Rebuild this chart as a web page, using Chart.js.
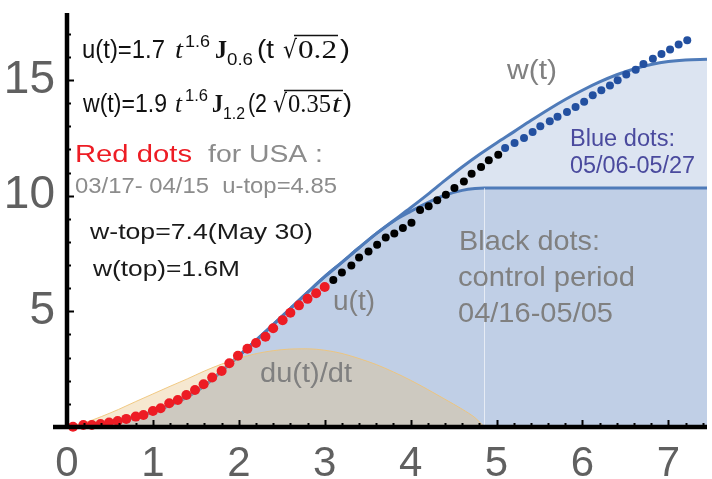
<!DOCTYPE html>
<html lang="en">
<head>
<meta charset="UTF-8">
<title>u(t) and w(t), USA</title>
<style>
    body { margin: 0; padding: 0; background: #fff; }
    #chart { display: block; }
</style>
<script src="https://cdn.jsdelivr.net/npm/chart.js"></script>
</head>
<body>
<canvas id="chart" width="712" height="479"></canvas>
<script>
// tick labels
const xTickLabels = [0, 1, 2, 3, 4, 5, 6, 7];
const yTickLabels = [5, 10, 15];

// u(t): fitted curve, plateau after the top
const uX = [0, 0.2, 0.4, 0.6, 0.8, 1.0, 1.2, 1.4, 1.6, 1.8, 2.0, 2.2, 2.4, 2.6, 2.8, 3.0, 3.2, 3.4, 3.6, 3.8, 4.0, 4.2, 4.4, 4.6, 4.75, 4.86, 7.45];
const uY = [0, 0.04, 0.12, 0.25, 0.43, 0.66, 0.95, 1.3, 1.78, 2.42, 3.08, 3.75, 4.43, 5.12, 5.82, 6.5, 7.12, 7.75, 8.36, 8.9, 9.32, 9.7, 10.02, 10.23, 10.31, 10.33, 10.33];

// w(t)
const wX = [0, 0.2, 0.4, 0.6, 0.8, 1.0, 1.2, 1.4, 1.6, 1.8, 2.0, 2.2, 2.4, 2.6, 2.8, 3.0, 3.2, 3.4, 3.6, 3.8, 4.0, 4.2, 4.4, 4.6, 4.8, 5.0, 5.2, 5.4, 5.6, 5.8, 6.0, 6.2, 6.4, 6.6, 6.8, 7.0, 7.2, 7.45];
const wY = [0, 0.04, 0.12, 0.25, 0.43, 0.66, 0.95, 1.3, 1.78, 2.42, 3.08, 3.75, 4.43, 5.12, 5.82, 6.5, 7.12, 7.75, 8.36, 8.92, 9.48, 10.06, 10.66, 11.24, 11.78, 12.28, 12.76, 13.25, 13.72, 14.16, 14.56, 14.92, 15.23, 15.48, 15.67, 15.8, 15.87, 15.9];

// du(t)/dt
const dX = [0, 0.2, 0.4, 0.6, 0.8, 1.0, 1.2, 1.4, 1.6, 1.8, 2.0, 2.2, 2.4, 2.6, 2.8, 3.0, 3.2, 3.4, 3.6, 3.8, 4.0, 4.2, 4.4, 4.6, 4.75, 4.86];
const dY = [0, 0.18, 0.45, 0.76, 1.1, 1.43, 1.76, 2.08, 2.42, 2.72, 2.97, 3.17, 3.3, 3.37, 3.38, 3.32, 3.18, 2.96, 2.7, 2.38, 2.02, 1.62, 1.2, 0.77, 0.4, 0];

// faint edge where u(t) reaches its top
const edgeX = [4.86, 4.86];
const edgeY = [0, 10.33];

// red dots 03/17-04/15
const redX = [0.07, 0.19, 0.29, 0.39, 0.49, 0.59, 0.69, 0.8, 0.89, 1.0, 1.09, 1.19, 1.29, 1.39, 1.49, 1.59, 1.69, 1.8, 1.89, 1.99, 2.1, 2.2, 2.31, 2.4, 2.51, 2.6, 2.7, 2.8, 2.9, 3.0];
const redY = [0.01, 0.09, 0.09, 0.13, 0.19, 0.26, 0.35, 0.45, 0.52, 0.69, 0.81, 1.03, 1.17, 1.38, 1.6, 1.85, 2.14, 2.42, 2.76, 3.08, 3.38, 3.63, 3.9, 4.27, 4.62, 4.94, 5.26, 5.54, 5.78, 6.05];

// black dots 04/16-05/05
const blackX = [3.1, 3.2, 3.31, 3.4, 3.51, 3.61, 3.71, 3.81, 3.91, 4.01, 4.11, 4.21, 4.31, 4.41, 4.51, 4.62, 4.71, 4.82, 4.91, 5.02];
const blackY = [6.36, 6.68, 6.98, 7.33, 7.59, 7.88, 8.19, 8.37, 8.6, 8.83, 9.38, 9.54, 9.8, 10.04, 10.33, 10.62, 10.95, 11.24, 11.53, 11.77];

// blue dots 05/06-05/27
const blueX = [5.1, 5.21, 5.32, 5.42, 5.51, 5.62, 5.71, 5.82, 5.92, 6.02, 6.12, 6.22, 6.32, 6.41, 6.51, 6.62, 6.71, 6.82, 6.92, 7.02, 7.12, 7.22];
const blueY = [12.06, 12.28, 12.5, 12.76, 13.0, 13.22, 13.41, 13.62, 13.84, 14.06, 14.34, 14.56, 14.76, 14.99, 15.24, 15.45, 15.7, 15.92, 16.13, 16.32, 16.54, 16.72];

const sans = '"Liberation Sans", Arial, sans-serif';
const serif = '"Liberation Serif", "Times New Roman", serif';
const lineBlue = '#4f7bb9';
const areaBlue = 'rgba(79, 119, 183, 0.2)';

function pts(xs, ys) {
    return xs.map((x, i) => ({ x: x, y: ys[i] }));
}

// draw text squeezed/stretched between x0 and x1
function fitText(ctx, text, x0, x1, base, font, color) {
    ctx.save();
    ctx.font = font;
    const w = ctx.measureText(text).width;
    ctx.translate(x0, base);
    ctx.scale((x1 - x0) / w, 1);
    ctx.fillStyle = color;
    ctx.textBaseline = 'alphabetic';
    ctx.textAlign = 'left';
    ctx.fillText(text, 0, 0);
    ctx.restore();
}

const decor = {
    id: 'decor',
    afterDatasetsDraw(chart) {
        const ctx = chart.ctx;
        const xs = chart.scales.x, ys = chart.scales.y;
        const x0 = xs.getPixelForValue(0), y0 = ys.getPixelForValue(0);

        // tick marks, pointing inwards
        ctx.save();
        ctx.strokeStyle = '#000';
        ctx.lineWidth = 2;
        for (let i = 1; i <= 37; i++) {
            const px = Math.round(xs.getPixelForValue(i / 5)) + 0.5;
            const len = i % 5 === 0 ? 7 : 4;
            ctx.beginPath();
            ctx.moveTo(px, y0);
            ctx.lineTo(px, y0 - len);
            ctx.stroke();
        }
        for (let j = 1; j <= 17; j++) {
            const py = Math.round(ys.getPixelForValue(j)) + 0.5;
            const len = j % 5 === 0 ? 7 : 4;
            ctx.beginPath();
            ctx.moveTo(x0, py);
            ctx.lineTo(x0 + len, py);
            ctx.stroke();
        }
        // axes
        ctx.lineWidth = 4.5;
        ctx.beginPath();
        ctx.moveTo(53, y0);
        ctx.lineTo(chart.chartArea.right, y0);
        ctx.moveTo(x0, y0 + 2);
        ctx.lineTo(x0, chart.chartArea.top);
        ctx.stroke();
        ctx.restore();

        // formulas
        const f25 = '25px ' + sans;
        const c = '#111';
        fitText(ctx, 'u(t)=1.7', 82, 165, 58, f25, c);
        fitText(ctx, 't', 175, 183, 58, 'italic 25px ' + serif, c);
        fitText(ctx, '1.6', 185, 210, 47, '16px ' + sans, c);
        fitText(ctx, 'J', 215, 227, 58, 'bold 25px ' + serif, c);
        fitText(ctx, '0.6', 227, 253, 65, '16px ' + sans, c);
        fitText(ctx, '(t', 257, 274, 58, f25, c);
        fitText(ctx, '\u221A', 283, 297, 58, '25px "DejaVu Sans"', c);
        fitText(ctx, '0.2', 298, 337, 58, '25px ' + serif, c);
        fitText(ctx, ')', 340, 350, 58, f25, c);

        fitText(ctx, 'w(t)=1.9', 83, 167, 112, f25, c);
        fitText(ctx, 't', 175, 182, 112, 'italic 25px ' + serif, c);
        fitText(ctx, '1.6', 185, 208, 101, '16px ' + sans, c);
        fitText(ctx, 'J', 212, 223, 112, 'bold 25px ' + serif, c);
        fitText(ctx, '1.2', 223, 245, 119, '16px ' + sans, c);
        fitText(ctx, '(2', 248, 267, 112, f25, c);
        fitText(ctx, '\u221A', 273, 287, 112, '25px "DejaVu Sans"', c);
        fitText(ctx, '0.35', 288, 331, 112, '25px ' + serif, c);
        fitText(ctx, 't', 332, 341, 112, 'italic 25px ' + serif, c);
        fitText(ctx, ')', 343, 352, 112, f25, c);

        ctx.save();
        ctx.strokeStyle = c;
        ctx.lineWidth = 1.3;
        ctx.beginPath();
        ctx.moveTo(294, 35.5); ctx.lineTo(338, 35.5);
        ctx.moveTo(284, 90.5); ctx.lineTo(343, 90.5);
        ctx.stroke();
        ctx.restore();

        // notes
        const gray = '#8c8c8c';
        fitText(ctx, 'Red dots', 75, 192, 162, '23px ' + sans, '#ed1c24');
        fitText(ctx, 'for USA :', 208, 323, 162, '23px ' + sans, gray);
        fitText(ctx, '03/17- 04/15  u-top=4.85', 75, 337, 193, '22px ' + sans, gray);
        fitText(ctx, 'w-top=7.4(May 30)', 90, 313, 239, '22px ' + sans, '#1a1a1a');
        fitText(ctx, 'w(top)=1.6M', 93, 240, 276, '22px ' + sans, '#1a1a1a');

        const lab = '#808080';
        fitText(ctx, 'w(t)', 507, 557, 79, '27px ' + sans, lab);
        fitText(ctx, 'u(t)', 333, 375, 310, '27px ' + sans, lab);
        fitText(ctx, 'du(t)/dt', 260, 352, 382, '27px ' + sans, lab);

        const purple = '#4a4a9e';
        fitText(ctx, 'Blue dots:', 570, 675, 146, '23px ' + sans, purple);
        fitText(ctx, '05/06-05/27', 570, 695, 173, '23px ' + sans, purple);

        fitText(ctx, 'Black dots:', 459, 600, 250, '28px ' + sans, lab);
        fitText(ctx, 'control period', 458, 635, 286, '28px ' + sans, lab);
        fitText(ctx, '04/16-05/05', 458, 613, 322, '28px ' + sans, lab);
    }
};

// keep the plot area fixed: no extra room for overhanging tick labels
function noPad(s) {
    s.paddingTop = 0;
    s.paddingBottom = 0;
    s.paddingLeft = 0;
    s.paddingRight = 0;
}

new Chart(document.getElementById('chart').getContext('2d'), {
    type: 'scatter',
    data: {
        datasets: [
            {
                label: 'w(t)', data: pts(wX, wY), showLine: true, order: 6,
                borderColor: lineBlue, borderWidth: 3, pointRadius: 0,
                backgroundColor: areaBlue, fill: 'origin', cubicInterpolationMode: 'monotone'
            },
            {
                label: 'u(t)', data: pts(uX, uY), showLine: true, order: 5,
                borderColor: lineBlue, borderWidth: 3, pointRadius: 0,
                backgroundColor: areaBlue, fill: 'origin', cubicInterpolationMode: 'monotone'
            },
            {
                label: 'du(t)/dt', data: pts(dX, dY), showLine: true, order: 4,
                borderColor: 'rgba(240, 196, 120, 0.9)', borderWidth: 1, pointRadius: 0,
                backgroundColor: 'rgba(230, 190, 120, 0.35)', fill: 'origin', cubicInterpolationMode: 'monotone'
            },
            {
                label: 'edge', data: pts(edgeX, edgeY), showLine: true, order: 3,
                borderColor: 'rgba(255, 255, 255, 0.6)', borderWidth: 1, pointRadius: 0, fill: false
            },
            {
                label: 'Red dots', data: pts(redX, redY), order: 2, clip: 8,
                pointRadius: 5, pointBackgroundColor: '#ed1c24', pointBorderWidth: 0
            },
            {
                label: 'Black dots', data: pts(blackX, blackY), order: 1, clip: 8,
                pointRadius: 4, pointBackgroundColor: '#000', pointBorderWidth: 0
            },
            {
                label: 'Blue dots', data: pts(blueX, blueY), order: 0, clip: 8,
                pointRadius: 4, pointBackgroundColor: '#2350a0', pointBorderWidth: 0
            }
        ]
    },
    options: {
        responsive: false,
        animation: false,
        devicePixelRatio: 1,
        layout: { padding: { top: 13, left: 0, right: 0, bottom: 0 } },
        plugins: { legend: { display: false }, tooltip: { enabled: false } },
        scales: {
            x: {
                type: 'linear', min: 0, max: 7.45,
                grid: { display: false, drawTicks: false },
                border: { display: false },
                ticks: {
                    stepSize: 1, includeBounds: false, autoSkip: false, maxRotation: 0,
                    padding: 12, color: '#606060', font: { family: sans, size: 42 },
                    callback: v => xTickLabels.includes(v) ? String(v) : ''
                },
                afterFit: s => { s.height = 52; noPad(s); }
            },
            y: {
                type: 'linear', min: 0, max: 17.9,
                grid: { display: false, drawTicks: false },
                border: { display: false },
                ticks: {
                    stepSize: 5, includeBounds: false,
                    padding: 12, color: '#606060', font: { family: sans, size: 46 },
                    callback: v => yTickLabels.includes(v) ? String(v) : ''
                },
                afterFit: s => { s.width = 67; noPad(s); }
            }
        }
    },
    plugins: [decor]
});
</script>
</body>
</html>
